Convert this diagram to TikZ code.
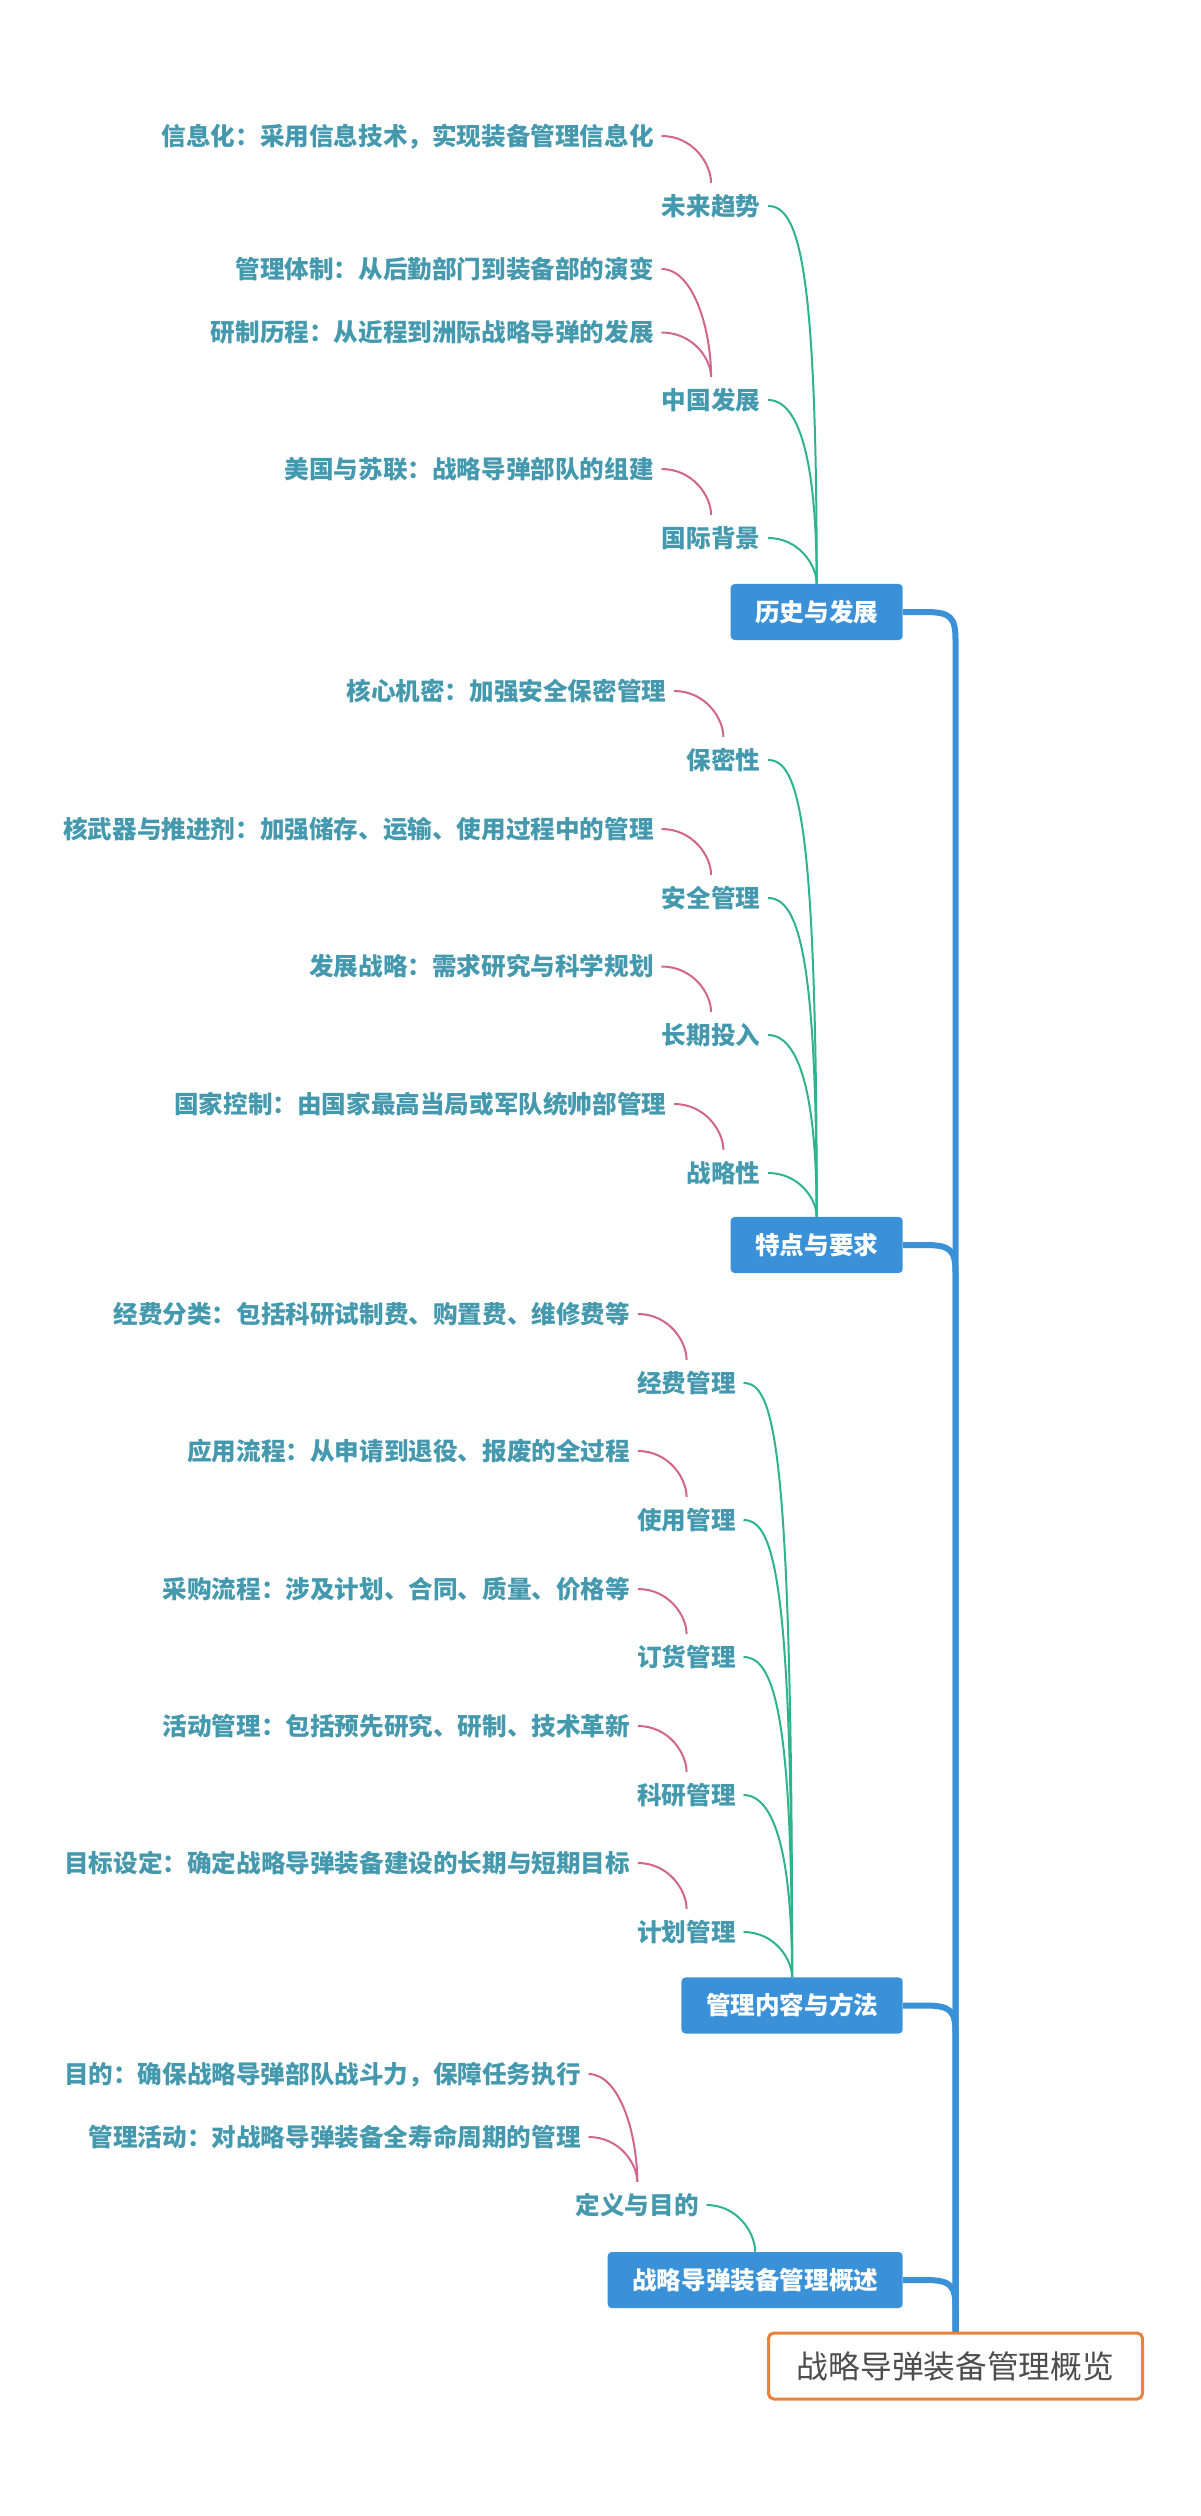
\documentclass[tikz,border=0pt]{standalone}
\usepackage{fontspec}
\newfontfamily\cjk{Noto Sans CJK SC}
\usetikzlibrary{calc}
\definecolor{tealtxt}{HTML}{4599AE}
\definecolor{linkpink}{HTML}{D3658C}
\definecolor{linkgreen}{HTML}{2EB38E}
\definecolor{mainblue}{HTML}{3A91D8}
\definecolor{rootorange}{HTML}{E8823D}
\definecolor{roottxt}{HTML}{4D4D4D}
\begin{document}
\begin{tikzpicture}[x=0.75pt,y=-0.75pt,
  detail/.style={font=\cjk\bfseries\fontsize{18.45pt}{22pt}\selectfont, text=tealtxt,
    text height=16.24pt, text depth=2.2pt, inner xsep=5.6pt, inner ysep=8pt, anchor=east},
  topic/.style={detail},
  branch/.style={fill=mainblue, rounded corners=3pt, text=white,
    font=\cjk\bfseries\fontsize{18.45pt}{22pt}\selectfont,
    text height=16.24pt, text depth=2.2pt, inner xsep=18.4pt, inner ysep=11.8pt, anchor=east},
  rootbox/.style={draw=rootorange, line width=2.25pt, rounded corners=4pt, fill=white,
    text=roottxt, font=\cjk\fontsize{23.8pt}{28pt}\selectfont,
    minimum width=280.5pt, minimum height=49.5pt, inner sep=0pt},
  linkc/.style={to path={let \p1=(\tikztostart),\p2=(\tikztotarget),
      \n1={min(45,0.6*(\y1-\y2))} in
      .. controls ({\x1+0.64*(\x2-\x1)},\y1) and (\x2,{\y1-\n1*1pt}) .. (\tikztotarget)}},
  pinklink/.style={linkc, draw=linkpink, line width=1.5pt},
  greenlink/.style={linkc, draw=linkgreen, line width=1.5pt},
  trunkc/.style={draw=mainblue, line width=4.5pt, to path={let \p1=(\tikztostart),\p2=(\tikztotarget) in
      -- ({\x1+16.5pt},\y1) .. controls ({\x2-3.75pt},\y1) and (\x2,{\y1-3.75pt}) .. (\x2,{\y1-21pt}) -- (\tikztotarget)}}
]
\useasboundingbox (0,0) rectangle (1200,2516);

% root
\node[rootbox] (root) at (955.5,2366) {战略导弹装备管理概览};

% branches
\node[branch] (b1) at (903,612) {历史与发展};
\node[branch] (b2) at (903,1245) {特点与要求};
\node[branch] (b3) at (903,2005.5) {管理内容与方法};
\node[branch] (b4) at (903,2280) {战略导弹装备管理概述};

% history
\node[topic] (s11) at (768,206) {未来趋势};
\node[topic] (s12) at (768,400) {中国发展};
\node[topic] (s13) at (768,538) {国际背景};
\node[detail] (d111) at (661.5,136) {信息化：采用信息技术，实现装备管理信息化};
\node[detail] (d121) at (661.5,269) {管理体制：从后勤部门到装备部的演变};
\node[detail] (d122) at (661.5,332.5) {研制历程：从近程到洲际战略导弹的发展};
\node[detail] (d131) at (661.5,469) {美国与苏联：战略导弹部队的组建};

% features
\node[topic] (s21) at (768,760) {保密性};
\node[topic] (s22) at (768,898) {安全管理};
\node[topic] (s23) at (768,1035) {长期投入};
\node[topic] (s24) at (768,1173) {战略性};
\node[detail] (d211) at (674,691) {核心机密：加强安全保密管理};
\node[detail] (d221) at (661.5,829) {核武器与推进剂：加强储存、运输、使用过程中的管理};
\node[detail] (d231) at (661.5,966.5) {发展战略：需求研究与科学规划};
\node[detail] (d241) at (674,1104) {国家控制：由国家最高当局或军队统帅部管理};

% management
\node[topic] (s31) at (743.5,1383) {经费管理};
\node[topic] (s32) at (743.5,1520) {使用管理};
\node[topic] (s33) at (743.5,1657) {订货管理};
\node[topic] (s34) at (743.5,1795) {科研管理};
\node[topic] (s35) at (743.5,1932) {计划管理};
\node[detail] (d311) at (637.8,1314) {经费分类：包括科研试制费、购置费、维修费等};
\node[detail] (d321) at (637.8,1451) {应用流程：从申请到退役、报废的全过程};
\node[detail] (d331) at (637.8,1589) {采购流程：涉及计划、合同、质量、价格等};
\node[detail] (d341) at (637.8,1726) {活动管理：包括预先研究、研制、技术革新};
\node[detail] (d351) at (637.8,1863) {目标设定：确定战略导弹装备建设的长期与短期目标};

% overview
\node[topic] (s41) at (706.5,2205) {定义与目的};
\node[detail] (d411) at (588.5,2074) {目的：确保战略导弹部队战斗力，保障任务执行};
\node[detail] (d412) at (588.5,2137) {管理活动：对战略导弹装备全寿命周期的管理};

% pink links
\foreach \d/\s in {d111/s11,d121/s12,d122/s12,d131/s13,
                   d211/s21,d221/s22,d231/s23,d241/s24,
                   d311/s31,d321/s32,d331/s33,d341/s34,d351/s35,
                   d411/s41,d412/s41}
  \draw[pinklink] (\d.east) to (\s.north);

% green links
\foreach \s/\b in {s11/b1,s12/b1,s13/b1,
                   s21/b2,s22/b2,s23/b2,s24/b2,
                   s31/b3,s32/b3,s33/b3,s34/b3,s35/b3,
                   s41/b4}
  \draw[greenlink] (\s.east) to (\b.north);

% trunk
\foreach \b in {b1,b2,b3,b4}
  \draw[trunkc] (\b.east) to (root.north);
\end{tikzpicture}
\end{document}
